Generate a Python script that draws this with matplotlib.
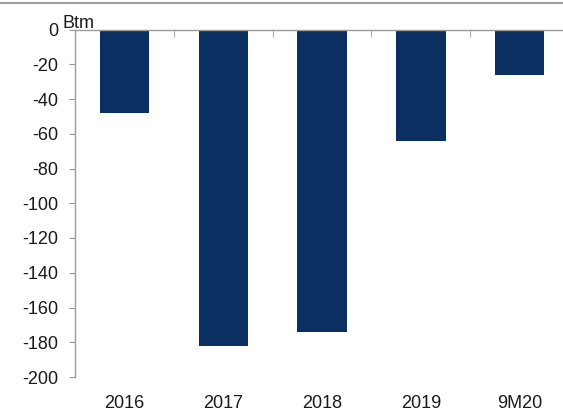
import matplotlib.pyplot as plt
import numpy as np
from matplotlib.lines import Line2D

categories = ["2016", "2017", "2018", "2019", "9M20"]
values = [-48, -182, -174, -64, -26]
y_ticks = list(range(0, -201, -20))

BAR_COLOR = "#0b2f60"
AXIS_COLOR = "#9a9a9a"
TEXT_COLOR = "#1a1a1a"

plt.rcParams["font.family"] = ["Liberation Sans", "DejaVu Sans"]
plt.rcParams["axes.unicode_minus"] = False

W, H = 563, 412
fig = plt.figure(figsize=(W / 100, H / 100), dpi=100)
# plot area runs a little past the right edge of the image, like the source
ax = fig.add_axes([75 / W, 1 - 377 / H, 494 / W, (377 - 29.5) / H])

x = np.arange(len(categories))
ax.bar(x, values, width=0.5, color=BAR_COLOR, zorder=2)

ax.set_xlim(-0.5, len(categories) - 0.5)
ax.set_ylim(-200, 0)
ax.set_yticks(y_ticks)
ax.set_yticklabels([str(v) for v in y_ticks])

ax.set_xticks(x)
ax.set_xticklabels(categories)
ax.set_xticks(x[:-1] + 0.5, minor=True)
ax.tick_params(axis="x", which="major", length=0, pad=13, labelsize=13, labelcolor=TEXT_COLOR)
ax.tick_params(axis="x", which="minor", top=True, bottom=False, direction="in",
               length=5, color=AXIS_COLOR)
ax.tick_params(axis="y", which="major", length=4.5, color=AXIS_COLOR, labelsize=13,
               labelcolor=TEXT_COLOR, pad=7.5)

for side in ("right", "bottom"):
    ax.spines[side].set_visible(False)
for side in ("left", "top"):
    ax.spines[side].set_color(AXIS_COLOR)
    ax.spines[side].set_linewidth(1.0)

# unit label sits just right of the "0" tick label
ax.text(-13 / 494, 1.003, "Btm", transform=ax.transAxes, fontsize=13, color=TEXT_COLOR,
        ha="left", va="baseline")

fig.add_artist(Line2D([0, 1], [1 - 3 / H, 1 - 3 / H], transform=fig.transFigure,
                      color="#a0a0a0", linewidth=1.5))

fig.savefig("out.png", dpi=100)
